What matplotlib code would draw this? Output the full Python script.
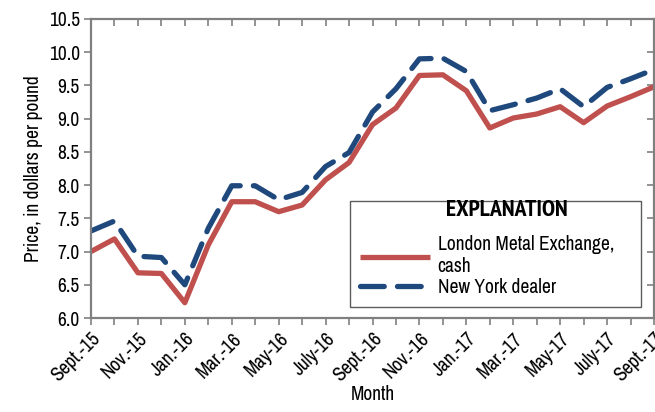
import matplotlib
matplotlib.use("Agg")
import matplotlib.pyplot as plt
import numpy as np

months = ["Sept.-15", "Oct.-15", "Nov.-15", "Dec.-15", "Jan.-16", "Feb.-16", "Mar.-16",
          "Apr.-16", "May-16", "June-16", "July-16", "Aug.-16", "Sept.-16", "Oct.-16",
          "Nov.-16", "Dec.-16", "Jan.-17", "Feb.-17", "Mar.-17", "Apr.-17", "May-17",
          "June-17", "July-17", "Aug.-17", "Sept.-17"]
lme_cash = [7.00, 7.19, 6.68, 6.67, 6.23, 7.10, 7.75, 7.75, 7.60, 7.70, 8.08, 8.34, 8.91,
            9.16, 9.65, 9.66, 9.42, 8.86, 9.01, 9.07, 9.18, 8.94, 9.19, 9.33, 9.48]
ny_dealer = [7.31, 7.46, 6.93, 6.91, 6.50, 7.35, 7.99, 7.99, 7.78, 7.89, 8.28, 8.49, 9.10,
             9.45, 9.90, 9.91, 9.71, 9.12, 9.21, 9.31, 9.45, 9.18, 9.47, 9.60, 9.74]
yticks = [6.0, 6.5, 7.0, 7.5, 8.0, 8.5, 9.0, 9.5, 10.0, 10.5]

plt.rcParams['font.family'] = ['Archivo Narrow', 'PT Sans Narrow', 'DejaVu Sans']
FS = 14
red = '#C0504D'
blue = '#1F497D'
gray = '#808080'

fig = plt.figure(figsize=(6.55, 4.12), dpi=100)
ax = fig.add_axes([91/655, 1-318/412, 563/655, 299/412])

x = np.arange(len(months))
ax.plot(x, lme_cash, color=red, lw=3.8, solid_capstyle='butt', label='London Metal Exchange,\ncash')
ax.plot(x, ny_dealer, color=blue, lw=3.8, linestyle=(0, (4.5, 2.5)), dash_capstyle='round',
        label='New York dealer')

ax.set_xlim(0, len(months) - 1)
ax.set_ylim(6.0, 10.5)
ax.set_yticks(yticks)
ax.set_yticklabels([f"{v:.1f}" for v in yticks], fontsize=FS)
ax.set_xticks(x)
ax.set_xticklabels([m if i % 2 == 0 else "" for i, m in enumerate(months)],
                   rotation=45, ha='right', rotation_mode='anchor', fontsize=FS)
ax.tick_params(axis='both', direction='out', length=5, width=1.2, color=gray, pad=3)
for s in ax.spines.values():
    s.set_color(gray)
    s.set_linewidth(1.6)

sx = ax.secondary_xaxis('top')
sx.set_xticks(x)
sx.tick_params(direction='in', length=5, width=1.2, color=gray, labeltop=False)
sx.spines['top'].set_visible(False)
sy = ax.secondary_yaxis('right')
sy.set_yticks(yticks)
sy.tick_params(direction='in', length=5, width=1.2, color=gray, labelright=False)
sy.spines['right'].set_visible(False)

ax.set_xlabel("Month", fontsize=FS, labelpad=0)
ax.set_ylabel("Price, in dollars per pound", fontsize=FS, labelpad=4)

leg = ax.legend(loc='lower left', bbox_to_anchor=((350-91)/563, (318-307)/299, (641-350)/563, (307-189)/299),
                mode='expand', title=" ", fontsize=FS, title_fontsize=FS + 4,
                frameon=True, fancybox=False, handlelength=3.6, handletextpad=0.4,
                borderpad=0.5, labelspacing=0.1, borderaxespad=0)
leg.get_frame().set_edgecolor('#333333')
leg.get_frame().set_linewidth(1.0)
ax.text((507-91)/563, 1-(211-19)/299, "EXPLANATION", transform=ax.transAxes,
        ha='center', va='center', fontsize=17, fontweight='bold',
        family=['PT Sans Narrow', 'Archivo Narrow', 'DejaVu Sans'], zorder=10)

fig.savefig("out.png", dpi=100)
